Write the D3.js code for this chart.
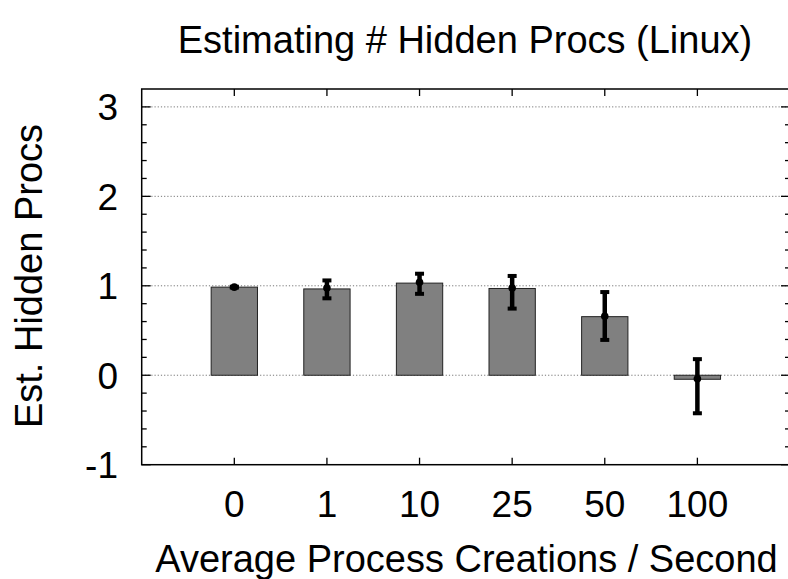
<!DOCTYPE html>
<html><head><meta charset="utf-8">
<script src="https://cdn.jsdelivr.net/npm/d3@7"></script>
<style>body{margin:0;background:#fff}svg{display:block;font-family:"Liberation Sans",Arial,sans-serif}</style>
</head><body>
<svg id="c" width="788" height="579"></svg>
<script>
const categories = ["0","1","10","25","50","100"];
const barValues = [0.985, 0.965, 1.03, 0.97, 0.655, -0.045];
const pointValues = [0.985, 0.975, 1.04, 0.975, 0.66, -0.04];
const errLow = [0.98, 0.86, 0.91, 0.745, 0.395, -0.425];
const errHigh = [0.99, 1.06, 1.135, 1.11, 0.93, 0.18];
const yTicks = [-1, 0, 1, 2, 3];
const gridValues = [0, 1, 2, 3];
const titleText = "Estimating # Hidden Procs (Linux)";
const xLabelText = "Average Process Creations / Second";
const yLabelText = "Est. Hidden Procs";

const svg = d3.select("#c");
const L = 141.7, R = 790, T = 89, B = 464.7;
const x = d3.scaleLinear().domain([-1, 6]).range([L, R]);
const y = d3.scaleLinear().domain([-1, 3.2]).range([B, T]);
const barW = x(0.25) - x(-0.25);

// gridlines
svg.append("g").selectAll("line").data(gridValues).join("line")
  .attr("x1", L).attr("x2", R).attr("y1", d => y(d)).attr("y2", d => y(d))
  .attr("stroke", "#777").attr("stroke-width", 1).attr("stroke-dasharray", "1.2,2");

// bars
svg.append("g").selectAll("rect").data(categories).join("rect")
  .attr("x", (d, i) => x(i) - barW / 2)
  .attr("width", barW)
  .attr("y", (d, i) => y(Math.max(0, barValues[i])))
  .attr("height", (d, i) => Math.abs(y(barValues[i]) - y(0)))
  .attr("fill", "#808080").attr("stroke", "#222").attr("stroke-width", 1);

// error bars
const eb = svg.append("g").attr("stroke", "#000");
categories.forEach((c, i) => {
  const cx = x(i);
  eb.append("line").attr("x1", cx).attr("x2", cx).attr("y1", y(errLow[i])).attr("y2", y(errHigh[i])).attr("stroke-width", 4.5);
  [errLow[i], errHigh[i]].forEach(v => {
    eb.append("line").attr("x1", cx - 4.5).attr("x2", cx + 4.5).attr("y1", y(v)).attr("y2", y(v)).attr("stroke-width", 4);
  });
  eb.append("circle").attr("cx", cx).attr("cy", y(pointValues[i])).attr("r", 3.8).attr("fill", "#000").attr("stroke", "none");
});

// frame
svg.append("rect").attr("x", L).attr("y", T).attr("width", R - L).attr("height", B - T)
  .attr("fill", "none").attr("stroke", "#000").attr("stroke-width", 1.5);

// y ticks (left and right, major and minor)
const minor = d3.range(-1, 3.01, 0.2).map(v => Math.round(v * 10) / 10).filter(v => !yTicks.includes(v));
const tg = svg.append("g").attr("stroke", "#000").attr("stroke-width", 1.3);
yTicks.forEach(v => {
  tg.append("line").attr("x1", L).attr("x2", L + 9).attr("y1", y(v)).attr("y2", y(v));
  tg.append("line").attr("x1", R).attr("x2", R - 9).attr("y1", y(v)).attr("y2", y(v));
});
minor.forEach(v => {
  tg.append("line").attr("x1", L).attr("x2", L + 5).attr("y1", y(v)).attr("y2", y(v));
  tg.append("line").attr("x1", R).attr("x2", R - 5).attr("y1", y(v)).attr("y2", y(v));
});
categories.forEach((c, i) => {
  tg.append("line").attr("x1", x(i)).attr("x2", x(i)).attr("y1", B).attr("y2", B - 7);
  tg.append("line").attr("x1", x(i)).attr("x2", x(i)).attr("y1", T).attr("y2", T + 7);
});

// tick labels
svg.append("g").selectAll("text").data(yTicks).join("text")
  .attr("x", 118).attr("y", d => y(d)).attr("dy", "0.36em")
  .attr("text-anchor", "end").attr("font-size", 37).text(d => d);
svg.append("g").selectAll("text").data(categories).join("text")
  .attr("x", (d, i) => x(i)).attr("y", 517)
  .attr("text-anchor", "middle").attr("font-size", 37).text(d => d);

// titles
svg.append("text").attr("x", 465).attr("y", 53).attr("text-anchor", "middle").attr("font-size", 38).text(titleText);
svg.append("text").attr("x", 466.5).attr("y", 572).attr("text-anchor", "middle").attr("font-size", 38).text(xLabelText);
svg.append("text").attr("transform", "translate(42,276) rotate(-90)").attr("text-anchor", "middle").attr("font-size", 38).text(yLabelText);
</script>
</body></html>
